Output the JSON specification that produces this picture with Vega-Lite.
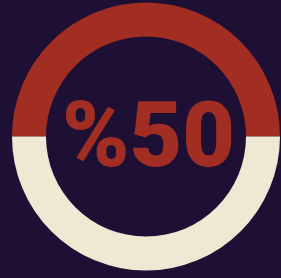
{
  "$schema": "https://vega.github.io/schema/vega-lite/v6.json",
  "width": 281,
  "height": 278,
  "autosize": {"type": "fit", "contains": "padding"},
  "padding": {"left": 11, "right": 0, "top": 0, "bottom": 5},
  "background": "#1e0f35",
  "config": {"view": {"stroke": null}},
  "data": {"values": [
    {"part": "filled", "value": 50, "label": "%50"},
    {"part": "rest", "value": 50, "label": "%50"}
  ]},
  "layer": [
    {
      "mark": {"type": "arc", "outerRadius": 134, "innerRadius": 100},
      "encoding": {
        "theta": {"field": "value", "type": "quantitative", "stack": true, "scale": {"range": [-1.5707963, 4.712389]}},
        "order": {"field": "part", "type": "nominal"},
        "color": {"field": "part", "type": "nominal", "scale": {"domain": ["filled", "rest"], "range": ["#a22d22", "#efe8d3"]}, "legend": null}
      }
    },
    {
      "transform": [{"filter": "datum.part === 'filled'"}],
      "mark": {"type": "text", "font": "Roboto", "fontWeight": 900, "fontSize": 91, "color": "#a22d22", "baseline": "alphabetic", "align": "center", "dx": 2.5, "dy": 29.5},
      "encoding": {"text": {"field": "label"}}
    }
  ]
}
